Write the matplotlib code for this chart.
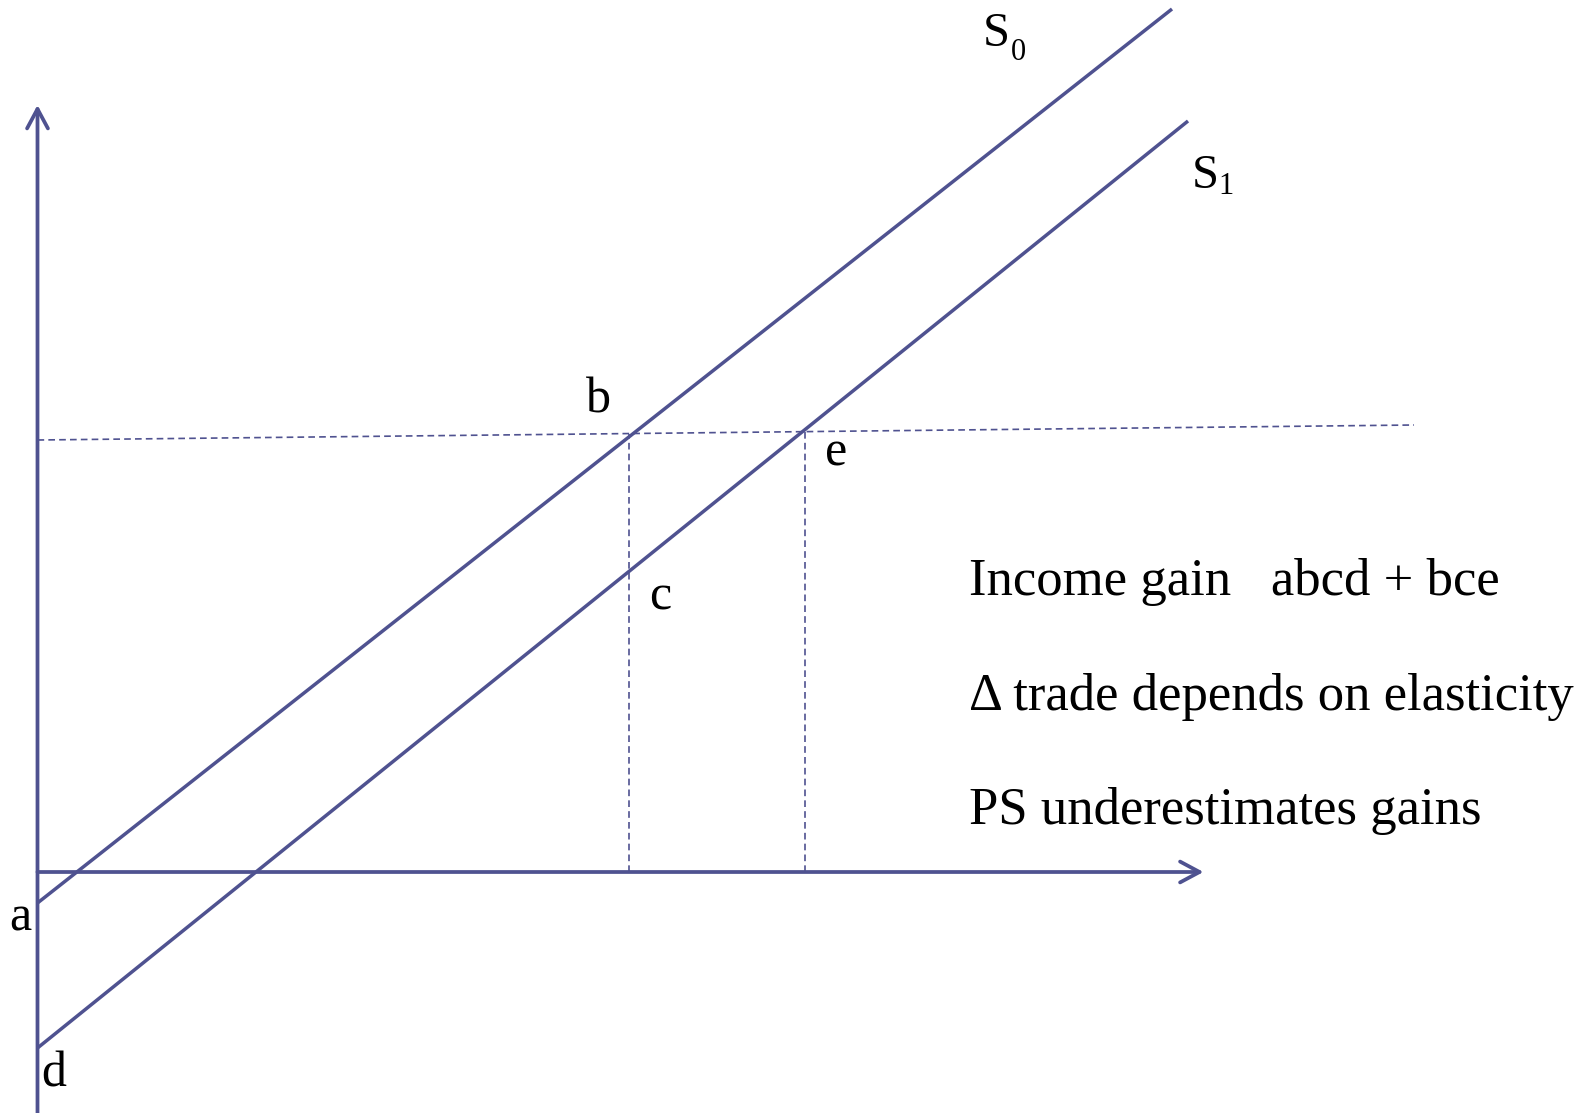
import matplotlib.pyplot as plt

# diagram units: origin at the axes crossing, 1 unit ~ 100 px
line_color = '#4f5290'

# supply curves (quantity, price) end points
s0_x = [0.0, 11.345]
s0_y = [-0.31, 8.63]
s1_x = [0.0, 11.505]
s1_y = [-1.76, 7.51]

# world price line (slightly sloped dashed line)
price_x = [0.0, 13.765]
price_y = [4.32, 4.47]

# quantity drop lines at b and e
drop_x = [5.915, 7.675]
drop_top = [4.38, 4.41]

# axis extents
x_axis_end = 11.66
y_axis_top = 7.67
y_axis_bottom = -2.45

point_labels = ['a', 'b', 'c', 'd', 'e']
point_x = [-0.175, 5.605, 6.225, 0.165, 7.985]
point_y = [-0.46, 4.72, 2.75, -2.02, 4.19]

notes = ['Income gain   abcd + bce',
         '\u0394 trade depends on elasticity',
         'PS underestimates gains']
notes_y = [2.77, 1.62, 0.48]

plt.rcParams['font.family'] = ['Liberation Serif', 'DejaVu Serif']

fig = plt.figure(figsize=(15.95, 11.13), dpi=100)
ax = fig.add_axes([0, 0, 1, 1])
ax.set_xlim(-0.375, 15.575)
ax.set_ylim(-2.41, 8.72)
ax.axis('off')

# axes with open arrow heads
arrow = dict(arrowstyle='->,head_length=1.4,head_width=0.75', lw=2.7,
             color=line_color, shrinkA=0, shrinkB=0, mutation_scale=10)
ax.annotate('', xy=(0, y_axis_top), xytext=(0, y_axis_bottom), arrowprops=arrow)
ax.annotate('', xy=(x_axis_end, 0), xytext=(0, 0), arrowprops=arrow)

# supply curves
ax.plot(s0_x, s0_y, color=line_color, lw=2.5, solid_capstyle='butt')
ax.plot(s1_x, s1_y, color=line_color, lw=2.5, solid_capstyle='butt')

# dashed guides
ax.plot(price_x, price_y, color=line_color, lw=1.2, ls=(0, (4, 2.5)))
for x, top in zip(drop_x, drop_top):
    ax.plot([x, x], [0, top], color=line_color, lw=1.2, ls=(0, (4, 2.5)))

# curve labels
ax.text(9.585, 8.38, 'S', fontsize=35, ha='center', va='center')
ax.text(9.81, 8.19, '0', fontsize=22, ha='center', va='center')
ax.text(11.675, 6.96, 'S', fontsize=35, ha='center', va='center')
ax.text(11.885, 6.85, '1', fontsize=22, ha='center', va='center')

for lab, x, y in zip(point_labels, point_x, point_y):
    ax.text(x, y, lab, fontsize=36, ha='center', va='center')

for txt, y in zip(notes, notes_y):
    ax.text(9.315, y, txt, fontsize=38, ha='left', va='baseline')

fig.savefig('out.png', dpi=100)
